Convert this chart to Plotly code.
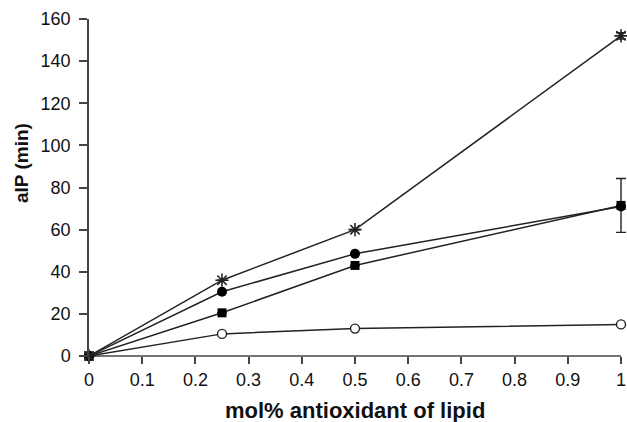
import plotly.graph_objects as go

x_vals = [0, 0.25, 0.5, 1]
star_y = [0, 36, 60, 152]
star_err = [0, 0, 0, 1.5]
fcircle_y = [0, 30.5, 48.5, 71]
square_y = [0, 20.5, 43, 71.5]
square_err = [0, 0, 0, 12.8]
ocircle_y = [0, 10.5, 13, 15]

x_ticks = [0, 0.1, 0.2, 0.3, 0.4, 0.5, 0.6, 0.7, 0.8, 0.9, 1]
x_ticktext = ["0", "0.1", "0.2", "0.3", "0.4", "0.5", "0.6", "0.7", "0.8", "0.9", "1"]
y_ticks = [0, 20, 40, 60, 80, 100, 120, 140, 160]

LC = "#222222"
AX = "#444444"
L_MARGIN, R_MARGIN, T_MARGIN, B_MARGIN = 89, 0, 19, 66
W, H = 627, 422
x_end_px = 621  # pixel where x = 1 sits
pw = W - L_MARGIN - R_MARGIN
ph = H - T_MARGIN - B_MARGIN
x_upper = pw / (x_end_px - L_MARGIN)

fig = go.Figure()

fig.add_trace(go.Scatter(
    x=x_vals, y=ocircle_y, mode="lines+markers",
    line=dict(color=LC, width=1.5),
    marker=dict(symbol="circle", size=9, color="white", line=dict(color=LC, width=1.4)),
    cliponaxis=False, showlegend=False))
fig.add_trace(go.Scatter(
    x=x_vals, y=square_y, mode="lines+markers",
    line=dict(color=LC, width=1.5),
    marker=dict(symbol="square", size=9, color="black"),
    error_y=dict(type="data", array=square_err, color=LC, thickness=1.4, width=5),
    cliponaxis=False, showlegend=False))
fig.add_trace(go.Scatter(
    x=x_vals, y=fcircle_y, mode="lines+markers",
    line=dict(color=LC, width=1.5),
    marker=dict(symbol="circle", size=10, color="black"),
    cliponaxis=False, showlegend=False))
fig.add_trace(go.Scatter(
    x=x_vals, y=star_y, mode="lines+markers",
    line=dict(color=LC, width=1.5),
    marker=dict(symbol="asterisk-open", size=11, color=LC, line=dict(color=LC, width=1.6)),
    error_y=dict(type="data", array=star_err, color=LC, thickness=1.6, width=5),
    cliponaxis=False, showlegend=False))

fig.update_layout(
    width=W, height=H,
    margin=dict(l=L_MARGIN, r=R_MARGIN, t=T_MARGIN, b=B_MARGIN),
    paper_bgcolor="white", plot_bgcolor="white",
    font=dict(family="Liberation Sans, Arial, sans-serif", color="#111"),
    xaxis=dict(range=[0, x_upper], tickmode="array", tickvals=x_ticks, ticktext=x_ticktext,
               showgrid=False, zeroline=False, showline=False,
               ticks="outside", ticklen=7, tickwidth=1.5, tickcolor=AX,
               tickfont=dict(size=18, color="#111")),
    yaxis=dict(range=[0, 160], tickmode="array", tickvals=y_ticks,
               showgrid=False, zeroline=False, showline=True, linecolor=AX, linewidth=1.5,
               ticks="outside", ticklen=8, tickwidth=1.5, tickcolor=AX,
               ticklabelstandoff=5,
               tickfont=dict(size=18, color="#111")),
    shapes=[dict(type="line", xref="x", yref="paper", x0=0, x1=1, y0=0, y1=0,
                 line=dict(color=AX, width=1.5), layer="below")],
    annotations=[
        dict(text="<b>mol% antioxidant of lipid</b>", x=(355 - L_MARGIN) / pw, xref="paper",
             y=(H - B_MARGIN - 410) / ph, yref="paper",
             showarrow=False, font=dict(size=22, color="#111"),
             xanchor="center", yanchor="middle"),
        dict(text="<b>aIP (min)</b>", x=(21 - L_MARGIN) / pw, xref="paper",
             y=(H - B_MARGIN - 163) / ph, yref="paper",
             showarrow=False, textangle=-90,
             font=dict(size=19, color="#111"), xanchor="center", yanchor="middle"),
    ],
)

fig.write_html("out.html")
